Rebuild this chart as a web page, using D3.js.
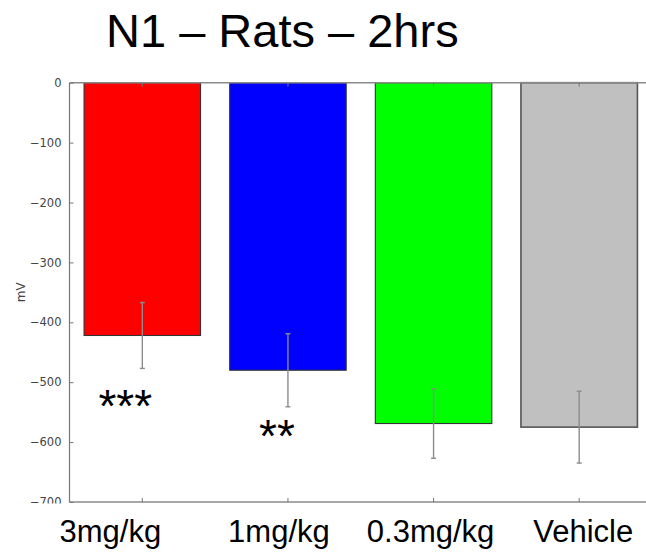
<!DOCTYPE html>
<html>
<head>
<meta charset="utf-8">
<script src="https://cdn.jsdelivr.net/npm/d3@7"></script>
<style>
  body { margin: 0; background: #fff; }
  svg { display: block; }
</style>
</head>
<body>
<svg id="vis" width="646" height="552"></svg>
<script>
// chart values
const categories = ["3mg/kg", "1mg/kg", "0.3mg/kg", "Vehicle"];
const means = [-422, -480, -569, -575];
const errors = [55, 61, 58, 60];
const barColors = ["#ff0000", "#0000ff", "#00ff00", "#c0c0c0"];
const yTicks = [0, -100, -200, -300, -400, -500, -600, -700];
// significance marks: category, text, level in mV
const sigCats = ["3mg/kg", "1mg/kg"];
const sigText = ["***", "**"];
const sigLevel = [-523, -572];

const W = 646, H = 552;
const PLOT = {left: 69.5, right: 652, top: 82.7, bottom: 502};

const svg = d3.select("#vis");

const x = d3.scaleBand()
    .domain(categories)
    .range([PLOT.left, PLOT.right])
    .paddingInner(0.2)
    .paddingOuter(0.1);

const y = d3.scaleLinear()
    .domain([-700, 0])
    .range([PLOT.bottom, PLOT.top]);

// title
svg.append("text")
    .attr("x", 106)
    .attr("y", 46.5)
    .style("font-family", "Liberation Sans, Arial, sans-serif")
    .style("font-size", "47px")
    .style("fill", "#000")
    .text("N1 \u2013 Rats \u2013 2hrs");

// bars
svg.selectAll("rect.bar")
    .data(categories)
    .enter()
    .append("rect")
    .attr("class", "bar")
    .attr("x", d => x(d))
    .attr("y", y(0))
    .attr("width", x.bandwidth())
    .attr("height", (d, i) => y(means[i]) - y(0))
    .style("fill", (d, i) => barColors[i])
    .style("stroke", (d, i) => i === 3 ? "#555" : "#333")
    .style("stroke-width", (d, i) => i === 3 ? 1.6 : 1.1);

// error bars
const eb = svg.append("g").style("stroke", "#8c8c8c").style("stroke-width", 1.4);
categories.forEach(function(c, i){
    const cx = x(c) + x.bandwidth() / 2;
    const y1 = y(means[i] + errors[i]);
    const y2 = y(means[i] - errors[i]);
    eb.append("line").attr("x1", cx).attr("x2", cx).attr("y1", y1).attr("y2", y2);
    eb.append("line").attr("x1", cx - 2.5).attr("x2", cx + 2.5).attr("y1", y1).attr("y2", y1);
    eb.append("line").attr("x1", cx - 2.5).attr("x2", cx + 2.5).attr("y1", y2).attr("y2", y2);
});

// significance stars, nudged left of the bar centre like the original
const sigShift = [-17, -11];
svg.selectAll("text.sig")
    .data(sigCats)
    .enter()
    .append("text")
    .attr("class", "sig")
    .attr("x", (d, i) => x(d) + x.bandwidth() / 2 + sigShift[i])
    .attr("y", (d, i) => y(sigLevel[i]))
    .attr("dy", "0.57em")
    .attr("text-anchor", "middle")
    .style("font-family", "Liberation Sans, Arial, sans-serif")
    .style("font-size", "46px")
    .style("fill", "#000")
    .text((d, i) => sigText[i]);

// spines
const spine = svg.append("g").style("fill", "none");
spine.append("line")
    .attr("x1", PLOT.left).attr("x2", W).attr("y1", PLOT.top).attr("y2", PLOT.top)
    .style("stroke", "#8a8a8a").style("stroke-width", 1.6);
spine.append("line")
    .attr("x1", PLOT.left).attr("x2", W).attr("y1", PLOT.bottom).attr("y2", PLOT.bottom)
    .style("stroke", "#8a8a8a").style("stroke-width", 1.6);
spine.append("line")
    .attr("x1", PLOT.left).attr("x2", PLOT.left).attr("y1", PLOT.top).attr("y2", PLOT.bottom)
    .style("stroke", "#777").style("stroke-width", 1.2);

// y axis: inward ticks, labels on the left
const yAxis = d3.axisLeft(y)
    .tickValues(yTicks)
    .tickSizeInner(-4)
    .tickSizeOuter(0)
    .tickPadding(8)
    .tickFormat(d => d3.format("d")(d).replace("-", "\u2212"));
const yg = svg.append("g")
    .attr("transform", `translate(${PLOT.left}, 0)`)
    .call(yAxis);
yg.select(".domain").remove();
yg.selectAll(".tick line").style("stroke", "#777");
yg.selectAll(".tick text")
    .style("font-family", "DejaVu Sans, sans-serif")
    .style("font-size", "11.5px")
    .style("fill", "#444");

// x ticks top and bottom, pointing inward
const ticks = svg.append("g").style("stroke", "#777").style("stroke-width", 1);
categories.forEach(function(c){
    const cx = x(c) + x.bandwidth() / 2;
    ticks.append("line").attr("x1", cx).attr("x2", cx).attr("y1", PLOT.top).attr("y2", PLOT.top + 4);
    ticks.append("line").attr("x1", cx).attr("x2", cx).attr("y1", PLOT.bottom).attr("y2", PLOT.bottom - 4);
});

// the original is cut just under the bottom axis
svg.append("rect")
    .attr("x", 0).attr("y", 503.5).attr("width", PLOT.left - 1).attr("height", H - 503.5)
    .style("fill", "#fff");

// y label
svg.append("text")
    .attr("transform", `translate(25, ${(PLOT.top + PLOT.bottom) / 2}) rotate(-90)`)
    .attr("text-anchor", "middle")
    .style("font-family", "DejaVu Sans, sans-serif")
    .style("font-size", "12px")
    .style("fill", "#444")
    .text("mV");

// category labels, placed a little off the bar centres like the original
const labelShift = [-32, -9, -3, 4];
svg.selectAll("text.cat")
    .data(categories)
    .enter()
    .append("text")
    .attr("class", "cat")
    .attr("x", (d, i) => x(d) + x.bandwidth() / 2 + labelShift[i])
    .attr("y", 542)
    .attr("text-anchor", "middle")
    .style("font-family", "Liberation Sans, Arial, sans-serif")
    .style("font-size", "31px")
    .style("fill", "#000")
    .text(d => d);
</script>
</body>
</html>
